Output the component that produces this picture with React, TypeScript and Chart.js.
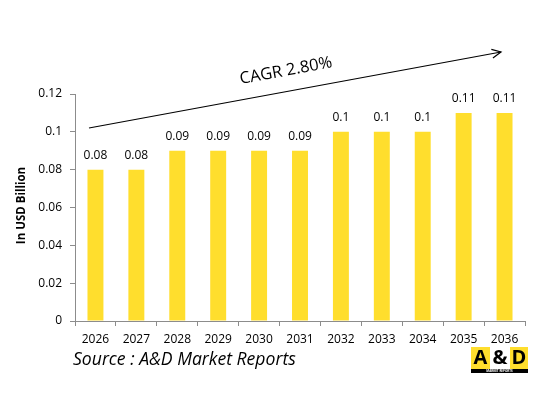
import React, { useEffect, useRef } from "react";
import { Chart, registerables } from "chart.js";

Chart.register(...registerables);

const categories = ["2026", "2027", "2028", "2029", "2030", "2031", "2032", "2033", "2034", "2035", "2036"];
const values = [0.08, 0.08, 0.09, 0.09, 0.09, 0.09, 0.1, 0.1, 0.1, 0.11, 0.11];
const yTickValues = [0, 0.02, 0.04, 0.06, 0.08, 0.1, 0.12];
const yTickLabels = ["0", "0.02", "0.04", "0.06", "0.08", "0.1", "0.12"];
const cagrText = "CAGR 2.80%";
const yTitle = "In USD Billion";
const sourceText = "Source : A&D Market Reports";

const FONT = "'Open Sans', sans-serif";
const BAR = "#FFDE2D";
const AXIS = "#8C8C8C";

const overlay = {
  id: "overlay",
  afterDatasetsDraw(chart: any) {
    const ctx = chart.ctx;
    const area = chart.chartArea;
    ctx.save();
    // data labels
    ctx.fillStyle = "#000";
    ctx.font = `12px ${FONT}`;
    ctx.textAlign = "center";
    ctx.textBaseline = "middle";
    const meta = chart.getDatasetMeta(0);
    meta.data.forEach((bar: any, i: number) => {
      ctx.fillText(String(values[i]), bar.x, bar.y - 14);
    });

    // y title
    ctx.save();
    ctx.translate(22, (area.top + area.bottom) / 2 - 2);
    ctx.rotate(-Math.PI / 2);
    ctx.font = `bold 11.5px ${FONT}`;
    ctx.fillText(yTitle, 0, 0);
    ctx.restore();

    // arrow
    const x1 = area.left + 14, y1 = area.top + 34;
    const x2 = area.right - 24, y2 = area.top - 42;
    ctx.strokeStyle = "#000";
    ctx.lineWidth = 1.2;
    ctx.beginPath();
    ctx.moveTo(x1, y1);
    ctx.lineTo(x2, y2);
    ctx.stroke();
    const ang = Math.atan2(y2 - y1, x2 - x1);
    const hl = 10;
    ctx.beginPath();
    ctx.moveTo(x2 - hl * Math.cos(ang - 0.45), y2 - hl * Math.sin(ang - 0.45));
    ctx.lineTo(x2, y2);
    ctx.lineTo(x2 - hl * Math.cos(ang + 0.45), y2 - hl * Math.sin(ang + 0.45));
    ctx.stroke();

    // CAGR text
    ctx.save();
    ctx.translate(286, 71);
    ctx.rotate(ang);
    ctx.font = `16.5px ${FONT}`;
    ctx.fillText(cagrText, 0, 0);
    ctx.restore();

    // source
    ctx.textAlign = "left";
    ctx.textBaseline = "alphabetic";
    ctx.font = `italic 17.6px ${FONT}`;
    ctx.fillText(sourceText, area.left - 2, 365);

    // logo
    const lx = 471, ly = 347, lw = 57, lh = 26;
    ctx.fillStyle = BAR;
    ctx.fillRect(lx, ly, 19, lh - 4);
    ctx.fillStyle = "#fff";
    ctx.fillRect(lx + 19, ly, 20, lh - 4);
    ctx.fillStyle = BAR;
    ctx.fillRect(lx + 39, ly, 18, lh - 4);
    ctx.fillStyle = "#000";
    ctx.fillRect(lx, ly + lh - 4, lw, 4);
    ctx.font = `bold 20px ${FONT}`;
    ctx.textAlign = "center";
    ctx.textBaseline = "middle";
    ctx.fillText("A", lx + 9.5, ly + 11);
    ctx.fillText("&", lx + 29, ly + 11);
    ctx.fillText("D", lx + 48, ly + 11);
    ctx.fillStyle = "#fff";
    ctx.font = `bold 3px ${FONT}`;
    ctx.fillText("MARKET REPORTS", lx + lw / 2, ly + lh - 2);
    ctx.restore();
  },
};

export default function App() {
  const ref = useRef<HTMLCanvasElement>(null);
  useEffect(() => {
    if (!ref.current) return;
    const chart = new Chart(ref.current, {
      type: "bar",
      data: {
        labels: categories,
        datasets: [
          {
            data: values,
            backgroundColor: BAR,
            borderWidth: 0,
            barPercentage: 0.39,
            categoryPercentage: 1,
          },
        ],
      },
      options: {
        responsive: false,
        animation: false,
        layout: { padding: { left: 0, right: 27, top: 94, bottom: 44 } },
        plugins: { legend: { display: false }, tooltip: { enabled: false } },
        scales: {
          x: {
            offset: true,
            grid: {
              offset: true,
              drawOnChartArea: false,
              drawTicks: true,
              tickLength: 5,
              color: AXIS,
            },
            border: { color: AXIS, width: 1 },
            ticks: { color: "#000", font: { family: FONT, size: 12 }, padding: 6, maxRotation: 0 },
            afterFit(scale: any) {
              scale.height = 30;
            },
          },
          y: {
            min: 0,
            max: 0.12,
            afterBuildTicks(scale: any) {
              scale.ticks = yTickValues.map((v) => ({ value: v }));
            },
            grid: { drawOnChartArea: false, drawTicks: true, tickLength: 5, color: AXIS },
            border: { color: AXIS, width: 1 },
            ticks: {
              color: "#000",
              font: { family: FONT, size: 12 },
              padding: 8,
              callback: (v: any) => {
                const i = yTickValues.findIndex((t) => Math.abs(t - Number(v)) < 1e-9);
                return i >= 0 ? yTickLabels[i] : "";
              },
            },
            afterFit(scale: any) {
              scale.width = 75;
            },
          },
        },
      },
      plugins: [overlay],
    });
    return () => chart.destroy();
  }, []);
  return (
    <div style={{ position: "absolute", left: 0, top: 0, width: 552, height: 395, background: "#fff" }}>
      <canvas ref={ref} width={552} height={395} style={{ display: "block" }} />
    </div>
  );
}
